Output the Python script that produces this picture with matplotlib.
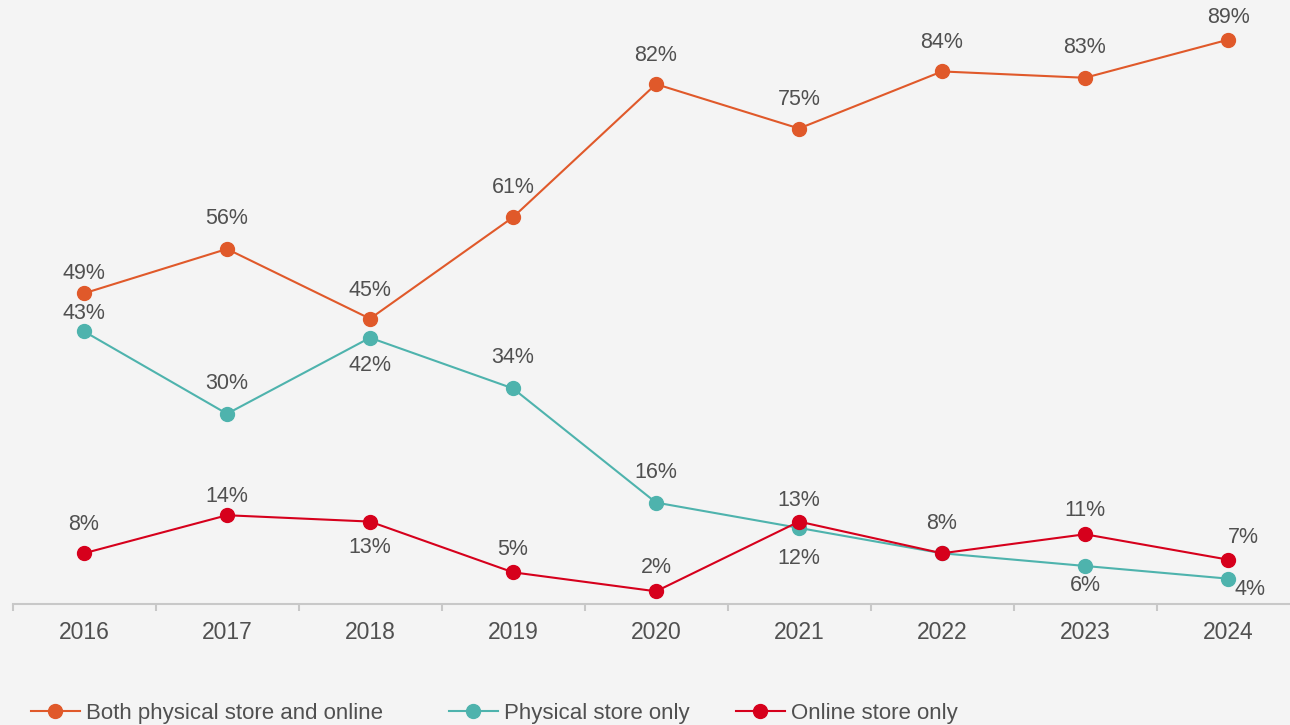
import matplotlib
matplotlib.use("Agg")
import matplotlib.pyplot as plt
from matplotlib.lines import Line2D

years = ["2016", "2017", "2018", "2019", "2020", "2021", "2022", "2023", "2024"]
both = [49, 56, 45, 61, 82, 75, 84, 83, 89]
physical = [43, 30, 42, 34, 16, 12, 8, 6, 4]
online = [8, 14, 13, 5, 2, 13, 8, 11, 7]
series_names = ["Both physical store and online", "Physical store only", "Online store only"]

colors = ["#e0592a", "#4eb3ad", "#d6001c"]
text_color = "#505050"
bg = "#f4f4f4"

# label offsets in pixels (dx, dy); None = no label
offs_both = [(0, 20), (0, 30), (0, 28), (0, 30), (0, 29), (0, 29), (0, 29), (0, 30), (0, 22)]
offs_phys = [(0, 18), (0, 30), (0, -28), (0, 31), (0, 30), (0, -31), None, (0, -20), (22, -11)]
offs_onl = [(0, 29), (0, 19), (0, -26), (0, 23), (0, 24), (0, 21), (0, 30), (0, 24), (15, 22)]

plt.rcParams['font.family'] = ['Liberation Sans', 'DejaVu Sans']
W, H = 1290, 725
fig = plt.figure(figsize=(W / 100, H / 100), dpi=100, facecolor=bg)
left_px, right_px = 12.5, 1299.5
bottom_px, top_px = 604, 0
ax = fig.add_axes([left_px / W, (H - bottom_px) / H, (right_px - left_px) / W, (bottom_px - top_px) / H])
ax.set_facecolor(bg)
ax.patch.set_alpha(0)

x = list(range(len(years)))
ax.set_xlim(-0.5, len(years) - 0.5)
ax.set_ylim(0, 604 / 6.34)

for vals, col, offs, name in [(both, colors[0], offs_both, series_names[0]),
                              (physical, colors[1], offs_phys, series_names[1]),
                              (online, colors[2], offs_onl, series_names[2])]:
    ax.plot(x, vals, color=col, lw=1.5, marker='o', markersize=10, label=name, zorder=3, clip_on=False)
    for xi, v, o in zip(x, vals, offs):
        if o is None:
            continue
        ax.annotate(f"{v}%", (xi, v), xytext=(o[0] * 0.72, o[1] * 0.72), textcoords='offset points',
                    ha='center', va='center', fontsize=15.5, color=text_color, zorder=4)

for s in ['top', 'right', 'left']:
    ax.spines[s].set_visible(False)
ax.spines['bottom'].set_color('#c8c8c8')
ax.spines['bottom'].set_linewidth(1.5)
ax.set_yticks([])
ax.set_xticks([i - 0.5 for i in range(len(years) + 1)], minor=False)
ax.set_xticklabels([])
ax.tick_params(axis='x', which='major', length=5, width=1.5, color='#c8c8c8', direction='out')
ax.set_xticks(x, minor=True)
ax.set_xticklabels(years, minor=True)
ax.tick_params(axis='x', which='minor', length=0, pad=12.5, labelsize=16.5, labelcolor=text_color)

legend_x = [32, 450, 737]
for i in range(3):
    h = Line2D([0], [0], color=colors[i], lw=1.5, marker='o', markersize=10)
    fig.legend(handles=[h], labels=[series_names[i]], loc='center left',
               bbox_to_anchor=((legend_x[i] - 8) / W, (H - 713) / H), frameon=False,
               fontsize=16, labelcolor=text_color, handlelength=2.2, handletextpad=0.3,
               borderaxespad=0, borderpad=0.3)

fig.savefig("out.png", dpi=100, facecolor=bg)
